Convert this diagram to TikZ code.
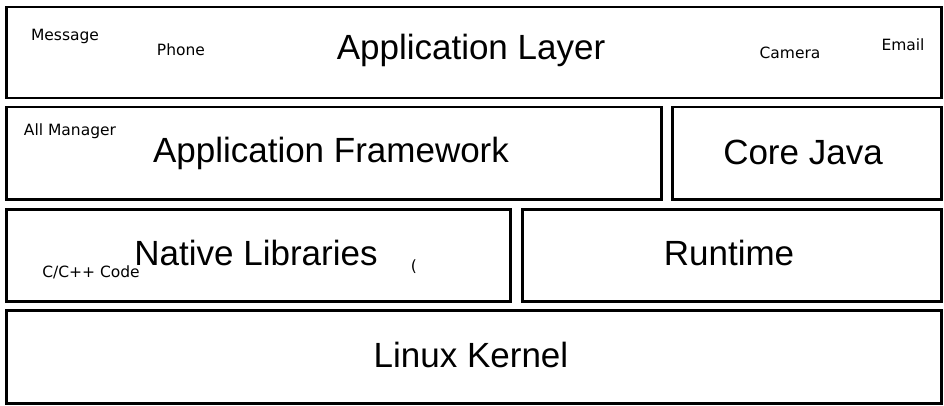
\documentclass[tikz,border=0pt]{standalone}
\usepackage{fontspec}
\setmainfont{Liberation Sans}
\newfontfamily\dejavu{DejaVu Sans}
\begin{document}
\begin{tikzpicture}[x=1pt,y=-1pt,
  box/.style={draw,line width=2.5pt},
  big/.style={font=\fontsize{35}{40}\selectfont},
  small/.style={font=\dejavu\fontsize{15.5}{18}\selectfont}]
\useasboundingbox (0,0) rectangle (944,406);
\node[box,minimum width=935,minimum height=91,anchor=north west] (al) at (5,6) {};
\node[box,minimum width=655,minimum height=92,anchor=north west] (af) at (5,106) {};
\node[box,minimum width=269,minimum height=92,anchor=north west] (cj) at (671,106) {};
\node[box,minimum width=504,minimum height=92,anchor=north west] (nl) at (5,208) {};
\node[box,minimum width=419,minimum height=92,anchor=north west] (rt) at (521,208) {};
\node[box,minimum width=935,minimum height=93,anchor=north west] (lk) at (5,309) {};
\node[big] (t1) at (471,50) {Application Layer};
\node[big] (t2) at (331,153) {Application Framework};
\node[big] (t3) at (803,152) {Core Java};
\node[big] (t4) at (256,253) {Native Libraries};
\node[big] (t5) at (729,253) {Runtime};
\node[big] (t6) at (471,355) {Linux Kernel};
\node[small] (s1) at (65,36) {Message};
\node[small] (s2) at (181,50) {Phone};
\node[small] (s3) at (790,53) {Camera};
\node[small] (s4) at (903,45) {Email};
\node[small] (s5) at (70,131) {All Manager};
\node[small] (s6) at (91,272) {C/C++ Code};
\node[small] (s7) at (414,267) {(};
\end{tikzpicture}
\end{document}
